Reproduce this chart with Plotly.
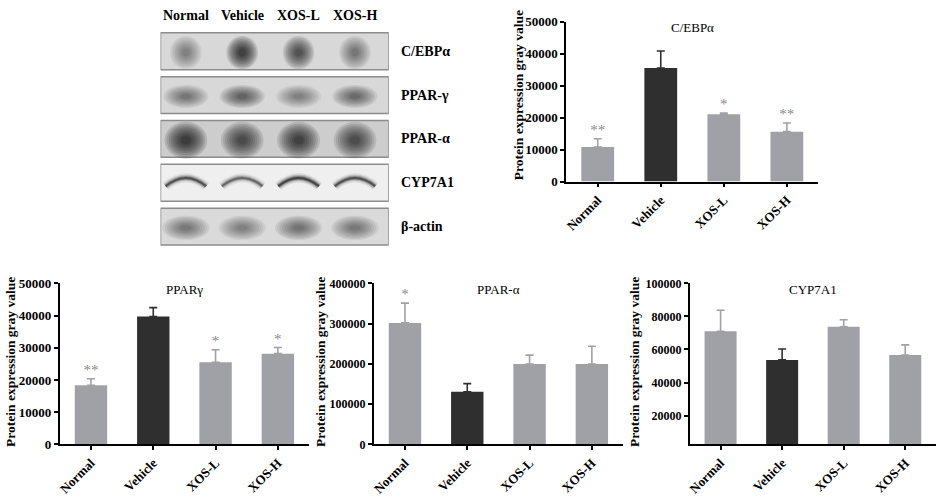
import plotly.graph_objects as go

# group names
groups = ["Normal", "Vehicle", "XOS-L", "XOS-H"]

# gray values (mean and upper SD)
cebpa_mean = [10800, 35500, 21000, 15600]
cebpa_sd = [2600, 5300, 450, 2700]
cebpa_sig = ["**", "", "*", "**"]

pparg_mean = [18400, 39700, 25500, 28200]
pparg_sd = [2000, 2800, 3900, 1900]
pparg_sig = ["**", "", "*", "*"]

ppara_mean = [302000, 131000, 200000, 200000]
ppara_sd = [49000, 20000, 22000, 44000]
ppara_sig = ["*", "", "", ""]

cyp_mean = [71000, 53700, 73700, 56600]
cyp_sd = [12800, 6600, 4300, 6200]
cyp_sig = ["", "", "", ""]

# western blot rows and band darkness (0-1) per lane
blot_rows = ["C/EBPα", "PPAR-γ", "PPAR-α", "CYP7A1", "β-actin"]
blot_dark = [
    [0.45, 1.00, 0.80, 0.50],
    [0.50, 0.65, 0.45, 0.60],
    [1.00, 0.85, 0.95, 0.80],
    [0.70, 0.55, 0.80, 0.70],
    [0.50, 0.45, 0.55, 0.50],
]

W, H = 941, 499
FONT = "Liberation Serif"
GRAY = "#a0a0a7"
DARK = "#2f2f2f"


def px(x):
    return x / W


def py(y):
    return 1 - y / H


panels = [
    # title, means, sds, stars, y range, ticks, x pixels, y pixels, tick size
    ("C/EBPα", cebpa_mean, cebpa_sd, cebpa_sig, [0, 50000], [0, 10000, 20000, 30000, 40000, 50000], (565, 818), (15, 180), 13),
    ("PPARγ", pparg_mean, pparg_sd, pparg_sig, [0, 50000], [0, 10000, 20000, 30000, 40000, 50000], (57, 307), (285, 451), 13),
    ("PPAR-α", ppara_mean, ppara_sd, ppara_sig, [0, 400000], [0, 100000, 200000, 300000, 400000], (372, 622), (285, 451), 12),
    ("CYP7A1", cyp_mean, cyp_sd, cyp_sig, [2500, 100000], [20000, 40000, 60000, 80000, 100000], (689, 936), (285, 451), 12),
]
ytitle_x = [517, 8, 319, 634]
ytitle_shift = [-7, -2, -2, -2]

fig = go.Figure()
annotations = []

for i, (title, means, sds, sig, yr, tv, xpx, ypx, fs) in enumerate(panels):
    n = "" if i == 0 else str(i + 1)
    xa, ya = "x" + n, "y" + n
    for g, m, s in zip(groups, means, sds):
        col = DARK if g == "Vehicle" else GRAY
        fig.add_trace(go.Bar(
            x=[g], y=[m], xaxis=xa, yaxis=ya, width=0.52,
            marker=dict(color=col, line=dict(width=0)),
            error_y=dict(type="data", symmetric=False, array=[s], arrayminus=[0],
                         color=col, thickness=1.6, width=4),
            showlegend=False, hoverinfo="skip",
        ))
    fig.add_trace(go.Scatter(
        x=groups, y=[m + s for m, s in zip(means, sds)], xaxis=xa, yaxis=ya,
        mode="text", text=sig, textposition="top center",
        textfont=dict(family=FONT, size=15, color="#8a8a8a"),
        showlegend=False, hoverinfo="skip",
    ))
    axis_font = dict(family=FONT, size=fs, color="black", weight="bold")
    fig.layout["xaxis" + n] = dict(
        domain=[px(xpx[0]), px(xpx[1])], anchor=ya, categoryorder="array",
        categoryarray=groups, tickangle=-45,
        tickfont=dict(family=FONT, size=13, color="black", weight="bold"),
        showline=True, linecolor="black", linewidth=1.8,
        ticks="outside", ticklen=4, tickcolor="black", tickwidth=1.5,
        showgrid=False, fixedrange=True,
    )
    fig.layout["yaxis" + n] = dict(
        domain=[py(ypx[1]), py(ypx[0])], anchor=xa, range=yr, tickvals=tv,
        tickformat="d", tickfont=axis_font, showline=True, linecolor="black",
        linewidth=1.8, ticks="outside", ticklen=4, tickcolor="black", tickwidth=1.5,
        showgrid=False, zeroline=False, fixedrange=True,
    )
    annotations.append(dict(
        text=title, x=px((xpx[0] + xpx[1]) / 2), y=py(ypx[0] + 6),
        xref="paper", yref="paper", xanchor="center", yanchor="middle",
        showarrow=False, font=dict(family=FONT, size=13, color="black"),
    ))
    annotations.append(dict(
        text="<b>Protein expression gray value</b>", textangle=-90,
        x=px(ytitle_x[i]), y=py((ypx[0] + ypx[1]) / 2 + ytitle_shift[i]),
        xref="paper", yref="paper", xanchor="center", yanchor="middle",
        showarrow=False, font=dict(family=FONT, size=13.5, color="black"),
    ))

# western blot panel on a hidden axis pair: lanes along x, rows along y
fig.add_trace(go.Scatter(x=[0], y=[0], xaxis="x5", yaxis="y5", mode="markers",
                         marker=dict(opacity=0), showlegend=False, hoverinfo="skip"))
fig.layout["xaxis5"] = dict(domain=[px(158), px(387)], anchor="y5", range=[-0.45, 3.6],
                            visible=False, fixedrange=True)
fig.layout["yaxis5"] = dict(domain=[py(249), py(23)], anchor="x5", range=[4.5, -0.5],
                            visible=False, fixedrange=True)

shapes = []
bg = ["#d8d8d8", "#d8d8d8", "#cdcdcd", "#efefef", "#dadada"]
band_w = [0.28, 0.40, 0.38, 0.34, 0.42]
band_h = [0.38, 0.26, 0.42, 0.30, 0.28]
layers = [1.0, 0.9, 0.8, 0.7, 0.6, 0.5, 0.4, 0.3, 0.22]
for r, row in enumerate(blot_rows):
    shapes.append(dict(type="rect", xref="x5", yref="y5", x0=-0.45, x1=3.6,
                       y0=r - 0.42, y1=r + 0.42, fillcolor=bg[r],
                       line=dict(color="#8c8c8c", width=1.5), layer="below"))
    for lane, d in enumerate(blot_dark[r]):
        if row == "CYP7A1":
            for w, op in [(9, 0.12), (6, 0.25), (3.5, 0.45), (2, 0.7)]:
                shapes.append(dict(type="path", xref="x5", yref="y5",
                                   path=f"M {lane - 0.36},{r + 0.08} Q {lane},{r - 0.30} {lane + 0.36},{r + 0.08}",
                                   line=dict(color=f"rgba(25,25,25,{d * op:.2f})", width=w)))
        else:
            for s in layers:
                sx, sy = band_w[r] * s, band_h[r] * s
                shapes.append(dict(type="circle", xref="x5", yref="y5",
                                   x0=lane - sx, x1=lane + sx, y0=r + 0.03 - sy, y1=r + 0.03 + sy,
                                   fillcolor=f"rgba(10,10,10,{d * 0.13:.3f})", line=dict(width=0)))
    annotations.append(dict(text=f"<b>{row}</b>", x=px(397), xref="paper", y=r, yref="y5",
                            xanchor="left", yanchor="middle", showarrow=False,
                            font=dict(family=FONT, size=14, color="black")))

for lane, g in enumerate(groups):
    annotations.append(dict(text=f"<b>{g}</b>", x=lane, xref="x5", y=py(9), yref="paper",
                            xanchor="center", yanchor="middle", showarrow=False,
                            font=dict(family=FONT, size=14, color="black")))

fig.update_layout(
    width=W, height=H, margin=dict(l=0, r=0, t=0, b=0),
    paper_bgcolor="white", plot_bgcolor="white",
    barmode="overlay", showlegend=False,
    annotations=annotations, shapes=shapes,
)

# page body has a default 8px margin; drop it so the figure fills the window
fig.write_html("out.html", config={"displayModeBar": False},
               post_script="document.body.style.margin='0';")
